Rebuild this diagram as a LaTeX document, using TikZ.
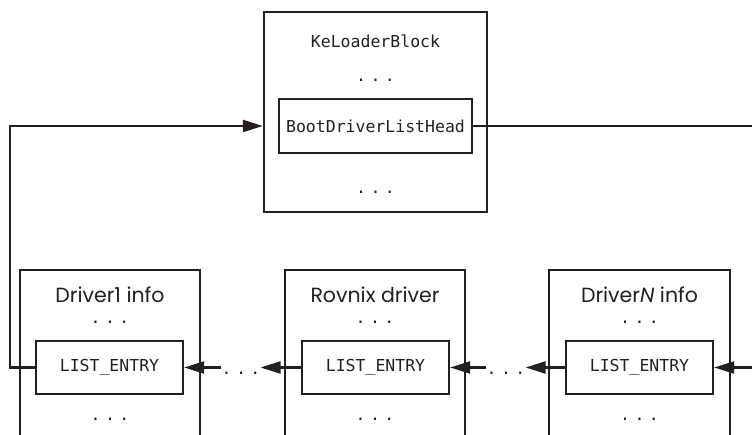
\documentclass[tikz,border=0pt]{standalone}
\usepackage{fontspec}
\setmainfont{Poppins}
\setmonofont{DejaVu Sans Mono}
\usetikzlibrary{arrows.meta}
\newcommand\mydots{.\kern4.5pt.\kern4.5pt.}
\definecolor{ink}{HTML}{231F20}
\tikzset{
  box/.style={draw=ink, line width=2.4pt, inner sep=0pt, text=ink},
  mono/.style={font=\ttfamily\fontsize{16.5}{18}\selectfont, text=ink},
  dotsty/.style={mono, anchor=base, inner sep=0pt},
  lbl/.style={font=\fontsize{20.5}{22}\selectfont, anchor=base, inner sep=0pt, text=ink},
  arr/.style={draw=ink, line width=2.4pt, -{Triangle[length=20pt,width=12pt]}},
}
\begin{document}
\begin{tikzpicture}[x=1pt,y=-1pt]
\clip (0,0) rectangle (752,435);
% top block
\node[box, minimum width=223pt, minimum height=200pt] (kl) at (375.5,112) {};
\node[mono, anchor=base] (klt) at (375.5,48) {KeLoaderBlock};
\node[dotsty] (kld1) at (375.5,82) {\mydots};
\node[box, mono, minimum width=193pt, minimum height=54pt] (head) at (375.5,126) {BootDriverListHead};
\node[dotsty] (kld2) at (375.5,194) {\mydots};
% driver 1
\node[box, minimum width=180pt, minimum height=220pt, anchor=north] (b1) at (110,269) {};
\node[lbl] (b1t) at (110,303) {Driver1 info};
\node[dotsty] (b1d1) at (110,324) {\mydots};
\node[box, mono, minimum width=147pt, minimum height=53pt] (e1) at (109.5,367.5) {LIST\_ENTRY};
\node[dotsty] (b1d2) at (110,420) {\mydots};
% rovnix
\node[box, minimum width=180pt, minimum height=220pt, anchor=north] (br) at (375,269) {};
\node[lbl] (brt) at (375,303) {Rovnix driver};
\node[dotsty] (brd1) at (375,324) {\mydots};
\node[box, mono, minimum width=147pt, minimum height=53pt] (er) at (375.5,367.5) {LIST\_ENTRY};
\node[dotsty] (brd2) at (375,420) {\mydots};
% driver N
\node[box, minimum width=181pt, minimum height=220pt, anchor=north] (bn) at (639.5,269) {};
\node[lbl] (bnt) at (639.5,303) {Driver\textit{N} info};
\node[dotsty] (bnd1) at (639.5,324) {\mydots};
\node[box, mono, minimum width=147pt, minimum height=53pt] (en) at (639.5,367.5) {LIST\_ENTRY};
\node[dotsty] (bnd2) at (639.5,420) {\mydots};
% chain gaps
\node[dotsty] (c1) at (241,374) {\mydots};
\node[dotsty] (c2) at (506,374) {\mydots};
\draw[arr] (er.west) -- (er.west -| c1.east);
\draw[arr] (c1.west |- e1.east) -- (e1.east);
\draw[arr] (en.west) -- (en.west -| c2.east);
\draw[arr] (c2.west |- er.east) -- (er.east);
% loop back to head
\coordinate (lc) at (10,367.5);
\draw[arr] (e1.west) -- (lc) |- (kl.west |- head.west);
% head to last entry (off-page)
\coordinate (rc) at (775,367.5);
\draw[arr] (head.east) -- (head.east -| rc) -- (rc) -- (en.east);
\end{tikzpicture}
\end{document}
